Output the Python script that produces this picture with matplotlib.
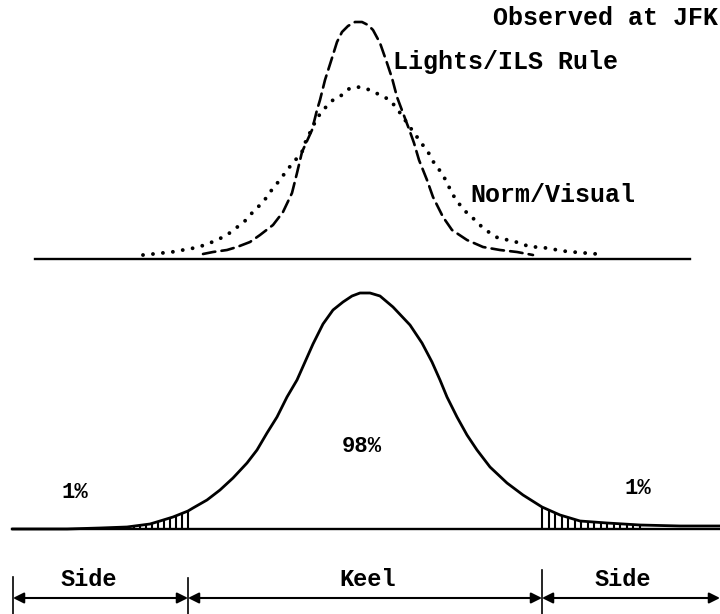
import numpy as np
import matplotlib
matplotlib.use("Agg")
import matplotlib.pyplot as plt

plt.rcParams['lines.scale_dashes'] = False
plt.rcParams['font.family'] = ['Liberation Mono', 'DejaVu Sans Mono']

# upper panel: observed lateral distributions (height above baseline)
TOP_BASE = 259
ils_x = [203, 213, 227, 237, 250, 260, 273, 283, 292, 297, 302, 312, 317, 320, 325,
         332, 337, 342, 348, 355, 362, 368, 373, 380, 387, 392, 397, 403, 409, 414,
         419, 427, 433, 443, 452, 467, 483, 500, 517, 533]
ils_h = [5, 7, 9, 12, 17, 24, 34, 47, 66, 86, 107, 129, 149, 159, 179,
         201, 217, 227, 233, 237, 237, 234, 229, 216, 196, 181, 162, 146, 130, 116,
         99, 79, 62, 42, 29, 19, 12, 9, 7, 4]

visual_x = [143, 153, 162, 172, 183, 194, 205, 217, 227, 236, 244, 252, 260, 267, 273,
            280, 287, 293, 302, 305, 317, 325, 333, 342, 350, 360, 370, 380, 390, 398,
            405, 412, 430, 435, 442, 448, 453, 460, 467, 475, 482, 490, 498, 508, 520,
            530, 540, 552, 563, 573, 585, 597, 605]
visual_h = [4, 5, 6, 7, 9, 11, 14, 19, 24, 31, 37, 46, 54, 62, 71,
            79, 89, 96, 107, 116, 141, 151, 159, 164, 171, 172, 169, 164, 159, 149,
            139, 129, 104, 94, 86, 74, 64, 54, 46, 39, 32, 26, 21, 19, 16,
            12, 12, 10, 8, 7, 6, 5, 5]

# lower panel: idealised distribution with keel / side zones
BOT_BASE = 529
dist_x = [13, 40, 67, 100, 127, 150, 160, 173, 188, 193, 207, 220, 233, 247, 257,
          267, 277, 287, 297, 305, 313, 323, 333, 343, 352, 360, 370, 380, 393, 410,
          422, 432, 440, 447, 457, 467, 477, 490, 507, 523, 542, 560, 580, 607, 640,
          680, 720]
dist_h = [0, 0, 0, 1, 2, 5, 8, 12, 18, 21, 29, 39, 51, 66, 79,
          96, 112, 132, 149, 167, 185, 205, 219, 227, 233, 236, 236, 233, 222, 204,
          186, 167, 149, 132, 112, 94, 79, 62, 46, 34, 22, 14, 8, 6, 4,
          3, 3]

keel_left, keel_right = 188, 542
tail_left_end, tail_right_end = 100, 640
zone_names = ['Side', 'Keel', 'Side']
zone_share = ['1%', '98%', '1%']

fig = plt.figure(figsize=(7.2, 6.14), dpi=100)
ax = fig.add_axes([0, 0, 1, 1])
ax.set_xlim(0, 720)
ax.set_ylim(614, 0)
ax.axis('off')

# upper panel
ax.plot([35, 690], [TOP_BASE, TOP_BASE], color='black', lw=1.7)
ax.plot(ils_x, TOP_BASE - np.array(ils_h), color='black', lw=1.9,
        dashes=(9, 4.5), dash_capstyle='round')
ax.plot(visual_x, TOP_BASE - np.array(visual_h), color='black', lw=2.8,
        dashes=(0.01, 7.2), dash_capstyle='round')
ax.text(493, 18, 'Observed at JFK', fontsize=18, fontweight='bold', va='center')
ax.text(393, 62, 'Lights/ILS Rule', fontsize=18, fontweight='bold', va='center')
ax.text(470, 195, 'Norm/Visual', fontsize=18, fontweight='bold', va='center')

# lower panel
ax.plot([12, 720], [BOT_BASE, BOT_BASE], color='black', lw=1.7)
ax.plot(dist_x, BOT_BASE - np.array(dist_h), color='black', lw=2.0)

# hatched tails beyond the keel limits
for lo, hi, step in [(tail_left_end, keel_left, 6), (keel_right, tail_right_end, 6.5)]:
    if lo == keel_right:
        xs = np.arange(lo, hi, step)
    else:
        xs = np.arange(hi, lo, -step)
    hs = np.interp(xs, dist_x, dist_h)
    ax.vlines(xs, BOT_BASE, BOT_BASE - hs, color='black', lw=1.5)

ax.text(362, 447, zone_share[1], fontsize=16, fontweight='bold', ha='center', va='center')
ax.text(75, 493, zone_share[0], fontsize=16, fontweight='bold', ha='center', va='center')
ax.text(638, 488, zone_share[2], fontsize=16, fontweight='bold', ha='center', va='center')

# zone dimension line
edges = [13, keel_left, keel_right, 720]
for xv, y0 in zip(edges[:3], [577, 578, 570]):
    ax.plot([xv, xv], [y0, 614], color='black', lw=1.2)
arrow_y = 598
for a, b in zip(edges[:-1], edges[1:]):
    ax.annotate('', xy=(b, arrow_y), xytext=(a, arrow_y),
                arrowprops=dict(arrowstyle='<|-|>', color='black', lw=1.5,
                                mutation_scale=16, shrinkA=0, shrinkB=0))
label_x = [89, 368, 623]
for xv, name in zip(label_x, zone_names):
    ax.text(xv, 580, name, fontsize=17, fontweight='bold', ha='center', va='center')

fig.savefig('out.png', dpi=100, facecolor='white')
